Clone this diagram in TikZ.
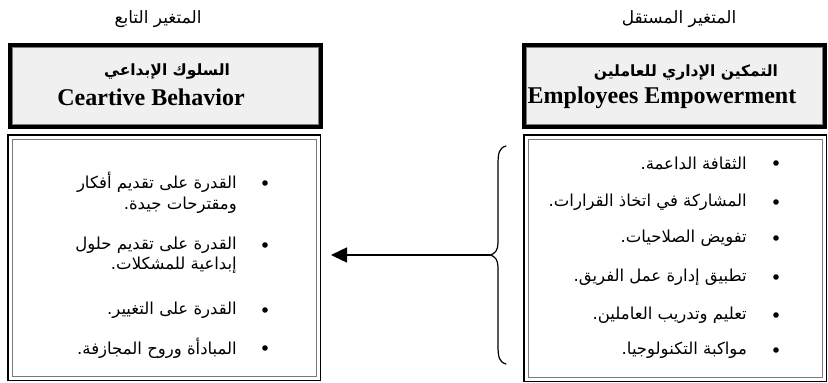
\documentclass[tikz,border=0pt]{standalone}
\usepackage{fontspec}
\setmainfont{Liberation Serif}
\newfontfamily\arabicfont[Script=Arabic]{DejaVu Sans}
\TeXXeTstate=1
\usetikzlibrary{arrows.meta}
\definecolor{hdrfill}{HTML}{F0F0F0}
\definecolor{innerline}{HTML}{7A7A7A}
\begin{document}
\begin{tikzpicture}[x=1pt,y=-1pt,
  hdrbox/.style={draw=black, line width=4pt, fill=white, minimum width=#1, minimum height=82pt, inner sep=0pt},
  listbox/.style={draw=black, line width=1.5pt, fill=white, inner sep=0pt},
  innerrect/.style={draw=innerline, line width=1pt},
  titletxt/.style={font=\arabicfont\fontsize{17}{19}\selectfont, inner sep=0pt},
  hdrar/.style={font=\arabicfont\bfseries\fontsize{15.5}{17}\selectfont, inner sep=0pt},
  hdren/.style={font=\bfseries\fontsize{24}{26}\selectfont, inner sep=0pt},
  itemtxt/.style={font=\arabicfont\fontsize{16.5}{20.5}\selectfont, inner sep=0pt, align=right, anchor=east},
  bulletdot/.style={fill=black},
  link/.style={line width=1.5pt, -{Triangle[length=16pt,width=15pt]}},
  bracestyle/.style={line width=1.2pt, line cap=round}
]
\useasboundingbox (0,0) rectangle (828,383);

% titles
\node[titletxt] (ltitle) at (158,19) {\beginR المتغير التابع\endR};
\node[titletxt] (rtitle) at (679,19) {\beginR المتغير المستقل\endR};

% header boxes
\node[hdrbox=311pt] (lhead) at (165.5,86) {};
\draw[innerrect, fill=hdrfill] ([shift={(4.5pt,-4.5pt)}]lhead.north west) rectangle ([shift={(-4.5pt,4.5pt)}]lhead.south east);
\node[hdrbox=301pt] (rhead) at (674.5,86) {};
\draw[innerrect, fill=hdrfill] ([shift={(4.5pt,-4.5pt)}]rhead.north west) rectangle ([shift={(-4.5pt,4.5pt)}]rhead.south east);

\node[hdrar] (lheadar) at (167,72) {\beginR السلوك الإبداعي\endR};
\node[hdren] (lheaden) at (151,97) {Ceartive Behavior};
\node[hdrar] (rheadar) at (686,73) {\beginR التمكين الإداري للعاملين\endR};
\node[hdren] (rheaden) at (662,98) {Employees Empowerment};

% list boxes
\node[listbox, minimum width=312.5pt, minimum height=245.5pt] (lbox) at (164,257.5) {};
\draw[innerrect] ([shift={(5pt,-5pt)}]lbox.north west) rectangle ([shift={(-5pt,5pt)}]lbox.south east);
\node[listbox, minimum width=302.5pt, minimum height=246.5pt] (rbox) at (675,258) {};
\draw[innerrect] ([shift={(5pt,-5pt)}]rbox.north west) rectangle ([shift={(-5pt,5pt)}]rbox.south east);

% left items
\node[itemtxt] (l1) at (237,193) {\beginR القدرة على تقديم أفكار\endR\\\beginR ومقترحات جيدة.\endR};
\fill[bulletdot] (265,183) circle (2.8);
\node[itemtxt] (l2) at (237,255) {\beginR القدرة على تقديم حلول\endR\\\beginR إبداعية للمشكلات.\endR};
\fill[bulletdot] (265,245) circle (2.8);
\node[itemtxt] (l3) at (237,310) {\beginR القدرة على التغيير.\endR};
\fill[bulletdot] (265,310) circle (2.8);
\node[itemtxt] (l4) at (237,348) {\beginR المبادأة وروح المجازفة.\endR};
\fill[bulletdot] (265,348) circle (2.8);

% right items
\node[itemtxt] (r1) at (747,163) {\beginR الثقافة الداعمة.\endR};
\fill[bulletdot] (776,163) circle (2.8);
\node[itemtxt] (r2) at (747,202) {\beginR المشاركة في اتخاذ القرارات.\endR};
\fill[bulletdot] (776,202) circle (2.8);
\node[itemtxt] (r3) at (747,238) {\beginR تفويض الصلاحيات.\endR};
\fill[bulletdot] (776,238) circle (2.8);
\node[itemtxt] (r4) at (747,277) {\beginR تطبيق إدارة عمل الفريق.\endR};
\fill[bulletdot] (776,277) circle (2.8);
\node[itemtxt] (r5) at (747,315) {\beginR تعليم وتدريب العاملين.\endR};
\fill[bulletdot] (776,315) circle (2.8);
\node[itemtxt] (r6) at (747,350) {\beginR مواكبة التكنولوجيا.\endR};
\fill[bulletdot] (776,350) circle (2.8);

% brace
\coordinate (tip) at (490,255);
\draw[bracestyle] (506,146) .. controls (499,148) and (498,153) .. (498,165) -- (498,243)
  .. controls (498,250) and (495,254) .. (tip)
  .. controls (495,256) and (498,260) .. (498,267) -- (498,345)
  .. controls (498,357) and (499,362) .. (506,364);

% arrow
\draw[link, shorten >=10pt] (tip) -- (tip -| lbox.east);
\end{tikzpicture}
\end{document}
